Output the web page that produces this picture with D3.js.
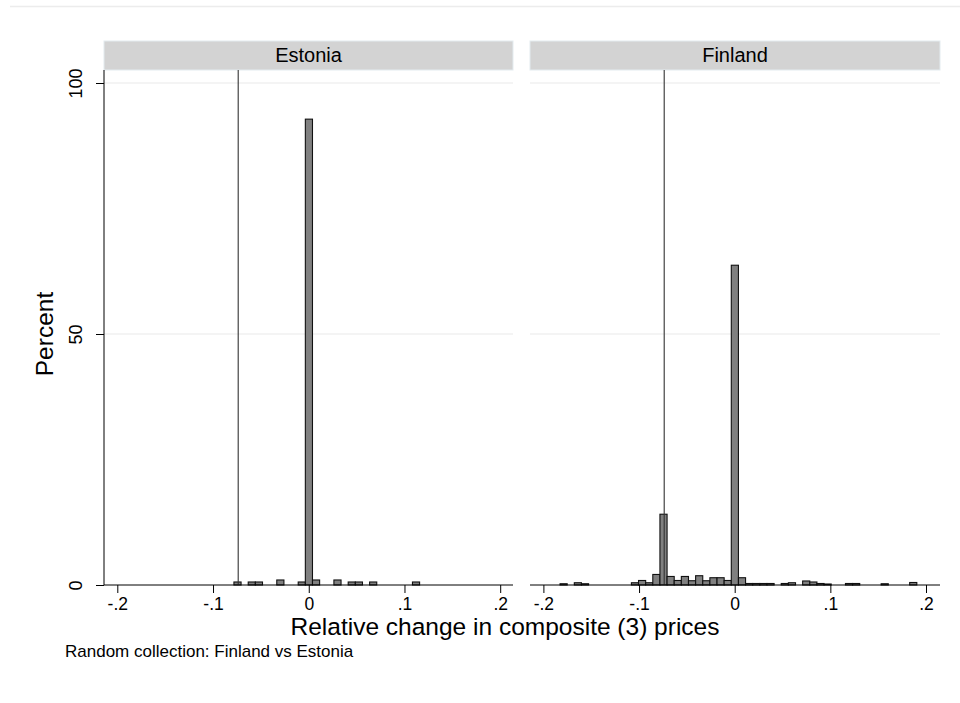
<!DOCTYPE html>
<html>
<head>
<meta charset="utf-8">
<script src="https://cdn.jsdelivr.net/npm/d3@7"></script>
<style>
  html, body { margin: 0; padding: 0; background: #fff; }
  svg { display: block; font-family: "Liberation Sans", Arial, sans-serif; }
</style>
</head>
<body>
<svg id="chart" width="960" height="703"></svg>
<script>
// ---- data ----
const panels = ["Estonia", "Finland"];
const binStart = -0.1826;
const binWidth = 0.00746;
const estoniaBins = [14, 16, 17, 20, 23, 24, 25, 28, 30, 31, 33, 39];
const estoniaPct  = [0.6, 0.6, 0.6, 1.0, 0.6, 92.8, 1.0, 1.0, 0.6, 0.6, 0.6, 0.6];
const finlandBins = [0, 2, 3, 10, 11, 12, 13, 14, 15, 16, 17, 18, 19, 20, 21, 22, 23, 24, 25, 26, 27, 28, 29, 31, 32, 34, 35, 36, 37, 40, 41, 45, 49];
const finlandPct  = [0.25, 0.45, 0.25, 0.45, 0.9, 0.45, 2.1, 14.1, 1.7, 0.9, 1.7, 0.85, 1.85, 0.85, 1.45, 1.45, 0.9, 63.7, 1.45, 0.3, 0.3, 0.3, 0.3, 0.3, 0.45, 0.8, 0.6, 0.3, 0.2, 0.3, 0.3, 0.25, 0.5];
const refLine = -0.0737;
const xTicks = [-0.2, -0.1, 0, 0.1, 0.2];
const xTickLabels = ["-.2", "-.1", "0", ".1", ".2"];
const yTicks = [0, 50, 100];
const yTickLabels = ["0", "50", "100"];
const xTitle = "Relative change in composite (3) prices";
const yTitle = "Percent";
const note = "Random collection: Finland vs Estonia";

// ---- layout ----
const svg = d3.select("#chart");
const panelBox = [
  {left: 104, right: 513, x0px: 117.3, x1px: 500.2},
  {left: 530, right: 940, x0px: 543.4, x1px: 926.0}
];
const headerTop = 41, headerBottom = 70;
const y = d3.scaleLinear().domain([0, 100]).range([585, 83]);
const plotTop = headerBottom;
const FONT = "Liberation Sans, Arial, sans-serif";

// faint outer line at top
svg.append("line").attr("x1", 10).attr("x2", 960).attr("y1", 6.5).attr("y2", 6.5)
  .attr("stroke", "#ececec").attr("stroke-width", 1.5);

const series = [
  {bins: estoniaBins, pct: estoniaPct},
  {bins: finlandBins, pct: finlandPct}
];

panels.forEach((name, i) => {
  const pb = panelBox[i];
  const x = d3.scaleLinear().domain([-0.2, 0.2]).range([pb.x0px, pb.x1px]);
  const g = svg.append("g");

  // header
  g.append("rect").attr("x", pb.left).attr("y", headerTop)
    .attr("width", pb.right - pb.left).attr("height", headerBottom - headerTop)
    .attr("fill", "#d3d3d3").attr("stroke", "#e3ebef").attr("stroke-width", 1);
  g.append("text").attr("x", (pb.left + pb.right) / 2).attr("y", headerBottom - 8)
    .attr("text-anchor", "middle").attr("font-size", 20).attr("fill", "#000").text(name);

  // gridlines
  yTicks.filter(v => v > 0).forEach(v => {
    g.append("line").attr("x1", pb.left).attr("x2", pb.right)
      .attr("y1", y(v)).attr("y2", y(v))
      .attr("stroke", "#eaeaea").attr("stroke-width", 1.2);
  });

  // bars
  const s = series[i];
  const data = s.bins.map((b, j) => ({x0: binStart + b * binWidth, p: s.pct[j]}));
  g.selectAll("rect.bar").data(data).enter().append("rect").attr("class", "bar")
    .attr("x", d => x(d.x0))
    .attr("width", d => x(d.x0 + binWidth) - x(d.x0))
    .attr("y", d => y(d.p))
    .attr("height", d => y(0) - y(d.p))
    .attr("fill", "#808080").attr("stroke", "#111").attr("stroke-width", 1.1);

  // reference line
  g.append("line").attr("x1", x(refLine)).attr("x2", x(refLine))
    .attr("y1", plotTop).attr("y2", y(0))
    .attr("stroke", "#333").attr("stroke-width", 1.1);

  // x axis
  const xAxis = d3.axisBottom(x).tickValues(xTicks).tickSize(8)
    .tickFormat((d, k) => xTickLabels[k]);
  const ax = g.append("g").attr("transform", `translate(0,${y(0)})`).call(xAxis);
  ax.select(".domain").remove();
  ax.append("line").attr("x1", pb.left).attr("x2", pb.right).attr("y1", 0).attr("y2", 0)
    .attr("stroke", "#000").attr("stroke-width", 1);
  ax.selectAll(".tick line").attr("stroke", "#000");
  ax.selectAll(".tick text").attr("font-size", 17.5).attr("fill", "#000")
    .attr("y", 25).attr("dy", null).style("font-family", FONT);

  if (i === 0) {
    const yAxis = d3.axisLeft(y).tickValues(yTicks).tickSize(8)
      .tickFormat((d, k) => yTickLabels[k]);
    const ay = g.append("g").attr("transform", `translate(${pb.left},0)`).call(yAxis);
    ay.select(".domain").remove();
    ay.append("line").attr("x1", 0).attr("x2", 0).attr("y1", plotTop).attr("y2", y(0))
      .attr("stroke", "#000").attr("stroke-width", 1);
    ay.selectAll(".tick line").attr("stroke", "#000");
    ay.selectAll(".tick text").attr("font-size", 18).attr("fill", "#000")
      .attr("x", null)
      .attr("text-anchor", "middle")
      .attr("transform", "translate(-28,0) rotate(-90)")
      .attr("dy", "0.35em")
      .style("font-family", FONT);
  }
});

// axis titles
svg.append("text").attr("x", 505).attr("y", 635).attr("text-anchor", "middle")
  .attr("font-size", 24.5).attr("fill", "#000").text(xTitle);
svg.append("text").attr("transform", `translate(53,${y(50)}) rotate(-90)`)
  .attr("text-anchor", "middle").attr("font-size", 24.5).attr("fill", "#000").text(yTitle);
svg.append("text").attr("x", 65).attr("y", 657).attr("font-size", 17)
  .attr("fill", "#000").text(note);
</script>
</body>
</html>
